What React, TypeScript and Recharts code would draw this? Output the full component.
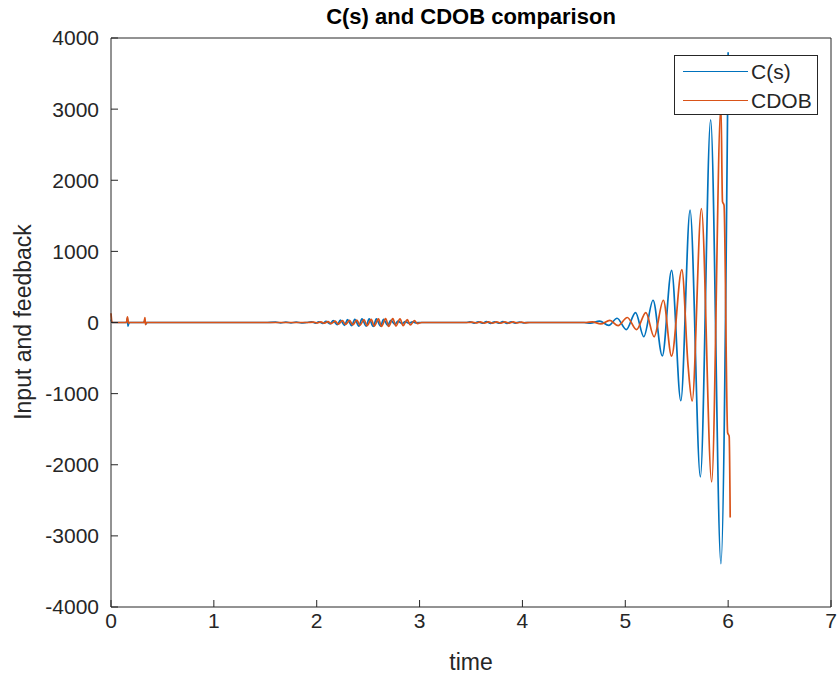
import { LineChart, Line, XAxis, YAxis, Legend } from "recharts";

// time axis ticks / value axis ticks
const xTicks = [0, 1, 2, 3, 4, 5, 6, 7];
const yTicks = [-4000, -3000, -2000, -1000, 0, 1000, 2000, 3000, 4000];

// C(s) series
const csTime = [
  0, 0.01, 0.15, 0.16, 0.165, 0.175, 0.32, 0.33, 0.34, 0.35,
  1.5, 1.6, 1.65, 1.7, 1.75, 1.8, 1.85, 1.9, 1.95, 1.99,
  2.02, 2.06, 2.09, 2.13, 2.16, 2.2, 2.23, 2.27, 2.3, 2.34,
  2.37, 2.41, 2.44, 2.48, 2.51, 2.55, 2.58, 2.62, 2.65, 2.69,
  2.72, 2.76, 2.79, 2.83, 2.86, 2.9, 2.93, 2.97, 3.0,
  3.45, 3.49, 3.53, 3.57, 3.61, 3.65, 3.69, 3.73, 3.77, 3.81,
  3.85, 3.89, 3.93, 3.97, 4.01, 4.05,
  4.6, 4.66, 4.75, 4.84, 4.92, 5.01, 5.1, 5.18, 5.27, 5.36,
  5.45, 5.54, 5.63, 5.73, 5.83, 5.93, 6.0,
];
const csValue = [
  40, 0, 0, 60, -50, 0, 0, 30, -20, 0,
  0, 5, -5, 5, -5, 6, -6, 0, 8, -8,
  10, -12, 15, -18, 25, -30, 35, -40, 40, -45,
  45, -50, 50, -50, 50, -55, 50, -50, 45, -40,
  30, -25, 20, -15, 12, -10, 8, -5, 0,
  0, 8, -8, 10, -10, 12, -12, 10, -10, 12,
  -12, 10, -8, 6, -5, 0,
  0, -10, 20, -40, 60, -100, 140, -200, 313, -470,
  733, -1100, 1580, -2170, 2850, -3390, 3800,
];

// CDOB series
const cdobTime = [
  0, 0.01, 0.15, 0.16, 0.17, 0.18, 0.32, 0.33, 0.335, 0.345,
  1.9, 1.97, 2.0, 2.04, 2.07, 2.11, 2.14, 2.18, 2.21, 2.25,
  2.28, 2.32, 2.35, 2.39, 2.42, 2.46, 2.49, 2.53, 2.56, 2.6,
  2.63, 2.67, 2.7, 2.74, 2.77, 2.81, 2.84, 2.88, 2.91, 2.95,
  2.98, 3.02,
  3.47, 3.51, 3.55, 3.59, 3.63, 3.67, 3.71, 3.75, 3.79, 3.83,
  3.87, 3.91, 3.95, 3.99, 4.03, 4.07,
  4.62, 4.68, 4.76, 4.85, 4.93, 5.02, 5.11, 5.2, 5.28, 5.37,
  5.45, 5.55, 5.61, 5.65, 5.74, 5.84, 5.93, 5.945, 5.96, 5.995,
  6.01, 6.02,
];
const cdobValue = [
  130, 0, 0, 80, -10, 0, 0, 70, -30, 0,
  0, 6, -6, 8, -10, 12, -15, 18, -22, 25,
  -28, 30, -35, 35, -40, 40, -45, 45, -50, 50,
  -55, 55, -55, 55, -50, 50, -45, 40, -35, 25,
  -15, 0,
  0, 6, -6, 8, -8, 10, -10, 8, -8, 10,
  -10, 8, -6, 5, -4, 0,
  0, 10, -20, 30, -45, 70, -100, 140, -200, 313,
  -473, 743, -600, -1104, 1600, -2240, 3050, 1700, 1650, -1550,
  -1600, -2740,
];

const csData = csTime.map((t, i) => ({ t, v: csValue[i] }));
const cdobData = cdobTime.map((t, i) => ({ t, v: cdobValue[i] }));

const FONT = '"Liberation Sans", Arial, Helvetica, sans-serif';
const INK = "#262626";
const BLUE = "#0072BD";
const ORANGE = "#D95319";

const tickStyle = { fontSize: 21, fill: INK, fontFamily: FONT };
const blank = () => "";

// MATLAB-like boxed legend in the upper right corner
const BoxLegend = ({ payload }: { payload?: { value: string; color: string }[] }) => (
  <div
    style={{
      width: 142,
      height: 58,
      border: `1px solid ${INK}`,
      background: "#fff",
      fontFamily: FONT,
      fontSize: 21,
      color: INK,
      boxSizing: "content-box",
    }}
  >
    {(payload || []).map((p) => (
      <div key={p.value} style={{ display: "flex", alignItems: "center", height: 27, marginTop: 2 }}>
        <span style={{ display: "inline-block", width: 65, height: 0, borderTop: `1.5px solid ${p.color}`, marginLeft: 8, marginRight: 3 }} />
        <span>{p.value}</span>
      </div>
    ))}
  </div>
);

export default function App() {
  return (
    <div style={{ position: "absolute", left: 0, top: 0, width: 840, height: 679, background: "#fff" }}>
      <div
        style={{
          position: "absolute",
          left: 111,
          width: 720,
          top: 4,
          textAlign: "center",
          fontFamily: FONT,
          fontWeight: "bold",
          fontSize: 22,
          lineHeight: "26px",
          color: "#000",
        }}
      >
        C(s) and CDOB comparison
      </div>
      <LineChart
        width={840}
        height={679}
        margin={{ top: 37, right: 8, bottom: 42, left: 51 }}
      >
        <XAxis
          dataKey="t"
          type="number"
          domain={[0, 7]}
          ticks={xTicks}
          height={30}
          tick={tickStyle}
          tickSize={-7}
          tickMargin={13}
          stroke={INK}
        />
        {/* top and right edges of the box, ticks only */}
        <XAxis
          xAxisId="top"
          orientation="top"
          dataKey="t"
          type="number"
          domain={[0, 7]}
          ticks={xTicks}
          height={1}
          tickFormatter={blank}
          tickSize={-7}
          stroke={INK}
        />
        <YAxis
          type="number"
          domain={[-4000, 4000]}
          ticks={yTicks}
          width={60}
          tick={tickStyle}
          tickSize={-7}
          tickMargin={19}
          stroke={INK}
        />
        <YAxis
          yAxisId="right"
          orientation="right"
          type="number"
          domain={[-4000, 4000]}
          ticks={yTicks}
          width={1}
          tickFormatter={blank}
          tickSize={-7}
          stroke={INK}
        />
        <Legend
          layout="vertical"
          align="center"
          verticalAlign="middle"
          wrapperStyle={{ left: 674, top: 55, width: 144, height: 60 }}
          content={<BoxLegend />}
        />
        <Line
          data={csData}
          dataKey="v"
          name="C(s)"
          type="monotone"
          stroke={BLUE}
          strokeWidth={1.7}
          dot={false}
          isAnimationActive={false}
        />
        <Line
          data={cdobData}
          dataKey="v"
          name="CDOB"
          type="monotone"
          stroke={ORANGE}
          strokeWidth={1.7}
          dot={false}
          isAnimationActive={false}
        />
      </LineChart>
      <div
        style={{
          position: "absolute",
          left: 111,
          width: 720,
          top: 648,
          textAlign: "center",
          fontFamily: FONT,
          fontSize: 23,
          lineHeight: "28px",
          color: INK,
        }}
      >
        time
      </div>
      <div
        style={{
          position: "absolute",
          left: 23,
          top: 322,
          transform: "translate(-50%, -50%) rotate(-90deg)",
          whiteSpace: "nowrap",
          fontFamily: FONT,
          fontSize: 23,
          lineHeight: "28px",
          color: INK,
        }}
      >
        Input and feedback
      </div>
    </div>
  );
}
